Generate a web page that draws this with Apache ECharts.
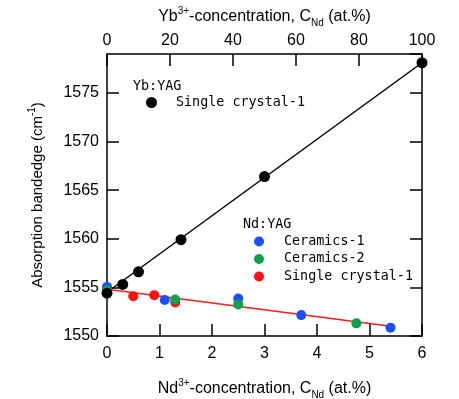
<!DOCTYPE html>
<html lang="en">
<head>
    <meta charset="UTF-8">
    <title>Absorption bandedge</title>
    <script src="https://cdn.jsdelivr.net/npm/echarts@6/dist/echarts.min.js"></script>
    <style>
        body{ margin:0; background:#fff; }
        #main{ width:459px; height:399px; }
    </style>
</head>
<body>
<div id="main"></div>
<script type="text/javascript">
    // Yb:YAG single crystal (top axis, at.%)
    var ybConc = [0, 5, 10, 23.5, 50, 100];
    var ybEdge = [1554.4, 1555.3, 1556.6, 1559.9, 1566.4, 1578.1];
    var ybFit = [[0, 1554.5], [100, 1578.1]];

    // Nd:YAG (bottom axis, at.%)
    var cer1Conc = [0, 1.1, 2.5, 3.7, 5.4];
    var cer1Edge = [1555.05, 1553.7, 1553.85, 1552.15, 1550.85];
    var cer2Conc = [0, 1.3, 2.5, 4.75];
    var cer2Edge = [1554.7, 1553.75, 1553.25, 1551.3];
    var sc1Conc = [0.5, 0.9, 1.3];
    var sc1Edge = [1554.1, 1554.2, 1553.45];
    var ndFit = [[0, 1554.8], [5.4, 1551.0]];

    var yTicks = [1550, 1579, 5];

    function pairs(xs, ys) {
        return xs.map(function (x, i) { return [x, ys[i]]; });
    }

    var font = 'Liberation Sans';
    var mono = 'DejaVu Sans Mono';
    function axisLine() {
        return {show: true, onZero: false, lineStyle: {color: '#000', width: 1.5}};
    }
    function axisTick() {
        return {show: true, inside: true, length: 12, lineStyle: {color: '#000', width: 1.5}};
    }
    function nameStyle(size) {
        return {rich: {
            a: {fontFamily: font, fontSize: size, color: '#000'},
            sup: {fontFamily: font, fontSize: 10, color: '#000', verticalAlign: 'top', lineHeight: 22},
            sub: {fontFamily: font, fontSize: 10, color: '#000', verticalAlign: 'bottom', lineHeight: 14}
        }};
    }
    function tickLabel(margin) {
        return {fontFamily: font, fontSize: 16, color: '#000', margin: margin,
            formatter: function (v) { return String(v); }};
    }

    var myChart = echarts.init(document.getElementById('main'));
    var option = {
        backgroundColor: '#fff',
        animation: false,
        title: [
            {text: 'Yb:YAG', left: 133, top: 80, padding: 0,
                textStyle: {fontFamily: mono, fontSize: 13.4, fontWeight: 'normal', color: '#000'}},
            {text: 'Nd:YAG', left: 243, top: 218, padding: 0,
                textStyle: {fontFamily: mono, fontSize: 13.4, fontWeight: 'normal', color: '#000'}}
        ],
        legend: [
            {
                data: ['Yb Single crystal-1'],
                orient: 'vertical', left: 146, top: 96, padding: 0,
                itemWidth: 11, itemHeight: 11, icon: 'circle',
                formatter: function (n) { return n.replace(/^Yb /, ''); },
                textStyle: {fontFamily: mono, fontSize: 13.4, color: '#000', padding: [0, 0, 0, 14]}
            },
            {
                data: ['Ceramics-1', 'Ceramics-2', 'Single crystal-1'],
                orient: 'vertical', left: 254, top: 235, padding: 0, itemGap: 4.5,
                itemWidth: 10, itemHeight: 10, icon: 'circle',
                textStyle: {fontFamily: mono, fontSize: 13.4, color: '#000', padding: [0, 0, 0, 15]}
            }
        ],
        grid: {left: 107, right: 37, top: 54, bottom: 63, outerBoundsMode: 'none', containLabel: false},
        xAxis: [
            {
                type: 'value', position: 'bottom', min: 0, max: 6, interval: 1,
                name: '{a|Nd}{sup|3+}{a|-concentration, C}{sub|Nd}{a| (at.%)}',
                nameLocation: 'middle', nameGap: 42, nameTextStyle: nameStyle(16),
                axisLine: axisLine(), axisTick: axisTick(), splitLine: {show: false},
                axisLabel: tickLabel(10)
            },
            {
                type: 'value', position: 'top', min: 0, max: 100, interval: 20,
                name: '{a|Yb}{sup|3+}{a|-concentration, C}{sub|Nd}{a| (at.%)}',
                nameLocation: 'middle', nameGap: 26, nameTextStyle: nameStyle(16),
                axisLine: axisLine(), axisTick: axisTick(), splitLine: {show: false},
                axisLabel: tickLabel(5)
            }
        ],
        yAxis: [
            {
                type: 'value', position: 'left', min: yTicks[0], max: yTicks[1], interval: yTicks[2],
                name: '{a|Absorption bandedge (cm}{sup|-1}{a|)}',
                nameLocation: 'middle', nameGap: 58, nameRotate: 90, nameTextStyle: nameStyle(15),
                axisLine: axisLine(), axisTick: axisTick(), splitLine: {show: false},
                axisLabel: Object.assign(tickLabel(8), {showMaxLabel: false})
            },
            {
                type: 'value', position: 'right', min: yTicks[0], max: yTicks[1], interval: yTicks[2],
                axisLine: axisLine(), axisTick: axisTick(), splitLine: {show: false},
                axisLabel: {show: false}
            }
        ],
        series: [
            {
                name: 'Yb fit', type: 'line', xAxisIndex: 1, data: ybFit, symbol: 'none', z: 2,
                lineStyle: {color: '#000', width: 1.5}
            },
            {
                name: 'Nd fit', type: 'line', xAxisIndex: 0, data: ndFit, symbol: 'none', z: 2,
                lineStyle: {color: '#ff1a1a', width: 1.5}
            },
            {
                name: 'Single crystal-1', type: 'scatter', xAxisIndex: 0, symbolSize: 10, z: 3,
                itemStyle: {color: '#ff1010', opacity: 1}, data: pairs(sc1Conc, sc1Edge)
            },
            {
                name: 'Ceramics-1', type: 'scatter', xAxisIndex: 0, symbolSize: 10, z: 3,
                itemStyle: {color: '#1a4fff', opacity: 1}, data: pairs(cer1Conc, cer1Edge)
            },
            {
                name: 'Ceramics-2', type: 'scatter', xAxisIndex: 0, symbolSize: 10, z: 3,
                itemStyle: {color: '#10a050', opacity: 1}, data: pairs(cer2Conc, cer2Edge)
            },
            {
                name: 'Yb Single crystal-1', type: 'scatter', xAxisIndex: 1, symbolSize: 11, z: 4,
                itemStyle: {color: '#000', opacity: 1}, data: pairs(ybConc, ybEdge)
            }
        ]
    };
    myChart.setOption(option);
</script>
</body>
</html>
